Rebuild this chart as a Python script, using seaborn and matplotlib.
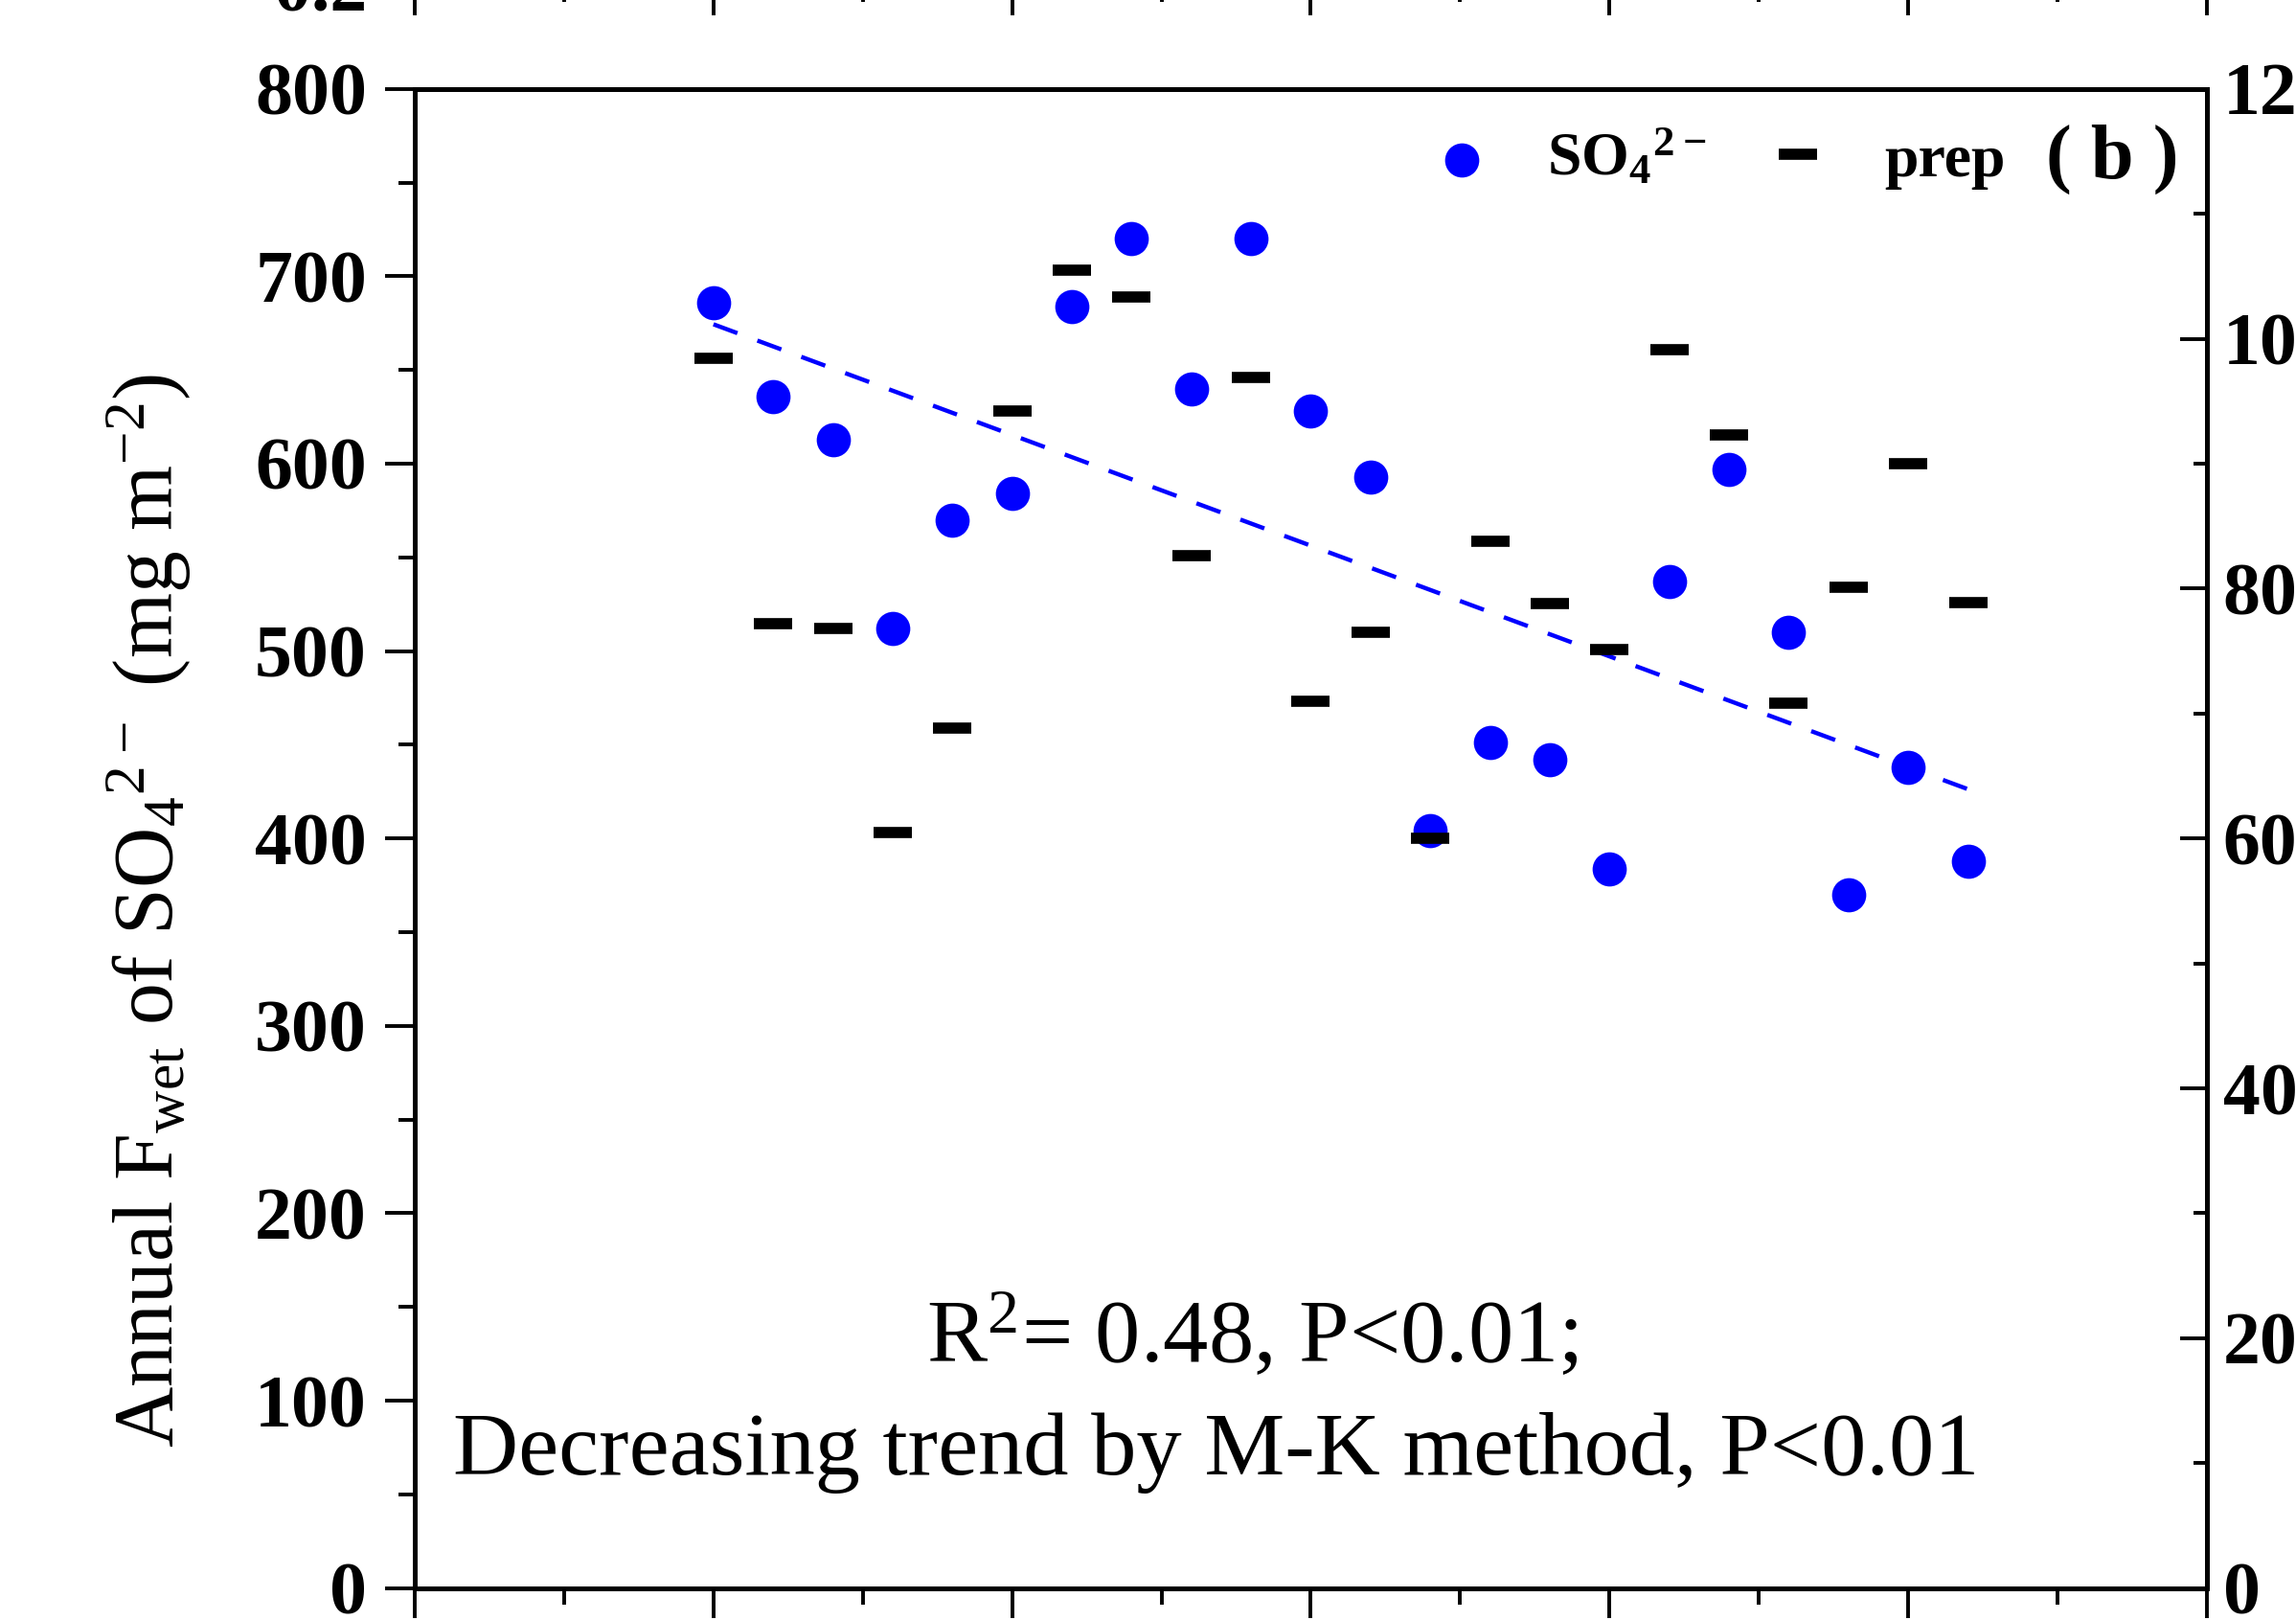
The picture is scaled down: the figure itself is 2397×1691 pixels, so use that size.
import matplotlib
matplotlib.use("Agg")
import matplotlib.pyplot as plt
from matplotlib.ticker import MultipleLocator, NullFormatter
import seaborn as sns
import pandas as pd

# ---------------- data ----------------
years = list(range(1990, 2012))
so4_wet = [686, 636, 613, 512, 570, 584, 684, 720, 640, 720, 628,
           593, 404, 451, 442, 384, 537, 597, 510, 370, 438, 388]
prep = [984, 772, 768, 605, 688, 942, 1055, 1033, 826, 969, 710,
        765, 600, 838, 788, 751, 991, 923, 708, 801, 900, 789]
left_ticks = [0, 100, 200, 300, 400, 500, 600, 700, 800]
right_ticks = [0, 200, 400, 600, 800, 1000, 1200]
x_ticks = [1985, 1990, 1995, 2000, 2005, 2010, 2015]
ylabel = 'Annual F$_{wet}$ of SO$_4$$^{2-}$ (mg m$^{-2}$)'
legend_labels = ['SO$_4$$^{2-}$', 'prep']
note1 = 'R$^2$= 0.48, P<0.01;'
note2 = 'Decreasing trend by M-K method, P<0.01'
panel = '( b )'

df = pd.DataFrame({'year': years, 'so4': so4_wet, 'prep': prep})

# ---------------- style ----------------
sns.set_style('ticks')
plt.rcParams['font.family'] = ['Liberation Serif', 'DejaVu Serif']
plt.rcParams['mathtext.default'] = 'regular'
plt.rcParams['axes.linewidth'] = 1.8
for k in ['text.color', 'axes.labelcolor', 'xtick.color', 'ytick.color',
          'axes.edgecolor']:
    plt.rcParams[k] = 'black'

W, H, DPI = 2397, 1691, 200
fig = plt.figure(figsize=(W / DPI, H / DPI), dpi=DPI)

L, R = 433 / W, 2304 / W
B, T = (H - 1657.7) / H, (H - 92.7) / H
ax = fig.add_axes([L, B, R - L, T - B])
ax2 = ax.twinx()

# upper panel remnant (mostly off-canvas)
top_b = (H + 15) / H
ax_top = fig.add_axes([L, top_b, R - L, 0.4])
ax_top.set_xlim(1985, 2015)
ax_top.set_ylim(0.2, 1.0)
ax_top.set_yticks([0.2])
ax_top.set_yticklabels(['0.2'])
ax_top.xaxis.set_major_locator(MultipleLocator(5))
ax_top.xaxis.set_minor_locator(MultipleLocator(2.5))
ax_top.xaxis.set_major_formatter(NullFormatter())
ax_top.tick_params(axis='x', which='major', direction='out', length=11, width=1.4)
ax_top.tick_params(axis='x', which='minor', direction='out', length=6, width=1.4)
ax_top.tick_params(axis='y', which='major', direction='out', length=11, width=1.4,
                   labelsize=28, pad=7)
for lab in ax_top.get_yticklabels():
    lab.set_fontweight('bold')

# ---------------- plots ----------------
sns.scatterplot(data=df, x='year', y='so4', ax=ax, color='#0000ff', s=165,
                linewidth=0, zorder=3)
sns.regplot(data=df, x='year', y='so4', ax=ax, scatter=False, ci=None,
            color='#0000ff', line_kws=dict(lw=1.6, ls=(0, (6, 5))))
sns.lineplot(data=df, x='year', y='prep', ax=ax2, color='black', marker='_',
             linestyle='', markersize=14.5, markeredgewidth=4.2,
             markeredgecolor='black', markerfacecolor='black', zorder=3)

# ---------------- axes ----------------
ax.set_xlim(1985, 2015)
ax.set_ylim(0, 800)
ax.set_yticks(left_ticks)
ax.yaxis.set_minor_locator(MultipleLocator(50))
ax.set_xticks(x_ticks)
ax.xaxis.set_minor_locator(MultipleLocator(2.5))
ax.tick_params(axis='x', which='both', labelbottom=False, top=False)
ax.tick_params(axis='x', which='major', direction='out', length=11, width=1.4)
ax.tick_params(axis='x', which='minor', direction='out', length=6, width=1.4)
ax.tick_params(axis='y', which='major', direction='out', length=11, width=1.4,
               labelsize=28, pad=7, right=False)
ax.tick_params(axis='y', which='minor', direction='out', length=6, width=1.4,
               right=False)
for lab in ax.get_yticklabels():
    lab.set_fontweight('bold')
ax.set_xlabel('')
ax.set_ylabel('')

ax2.set_ylim(0, 1200)
ax2.set_yticks(right_ticks)
ax2.yaxis.set_minor_locator(MultipleLocator(100))
ax2.tick_params(axis='y', which='major', direction='in', length=10, width=1.4,
                labelsize=28, pad=6)
ax2.tick_params(axis='y', which='minor', direction='in', length=5, width=1.4)
for lab in ax2.get_yticklabels():
    lab.set_fontweight('bold')
ax2.set_ylabel('')
for a in (ax, ax2):
    for s in a.spines.values():
        s.set_visible(True)
        s.set_linewidth(1.8)

# y label
ax.text(-0.1486, 0.4516, ylabel, transform=ax.transAxes, rotation=90,
        ha='center', va='center', rotation_mode='anchor', fontsize=31.5)

# notes
ax.text(0.4676, 120.5, note1, ha='center', va='baseline', fontsize=34,
        transform=ax.get_yaxis_transform())
ax.text(0.447, 60.7, note2, ha='center', va='baseline', fontsize=34,
        transform=ax.get_yaxis_transform())

# legend
handles = [ax.collections[0], ax2.get_lines()[0]]
leg = ax2.legend(handles, legend_labels, loc='center left',
                 bbox_to_anchor=(0.567, 0.9528), ncol=2, frameon=False,
                 handlelength=1.0, handletextpad=0.9, columnspacing=1.0,
                 borderpad=0, borderaxespad=0,
                 prop=dict(family='Liberation Serif', weight='bold', size=23))
ax2.text(0.910, 0.9528, panel, transform=ax2.transAxes, ha='left', va='center',
         fontsize=29, fontweight='bold')

fig.savefig('out.png', dpi=DPI)
